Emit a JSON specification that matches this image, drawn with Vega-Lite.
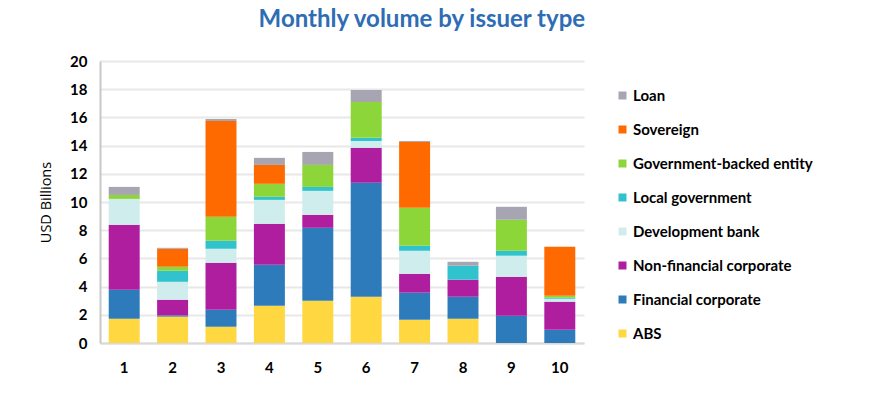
{
  "$schema": "https://vega.github.io/schema/vega-lite/v6.json",
  "autosize": {"type": "none"},
  "width": 484,
  "height": 282,
  "padding": {"left": 100, "top": 61, "right": 300, "bottom": 56},
  "background": "white",
  "title": {
    "text": "Monthly volume by issuer type",
    "anchor": "start",
    "dx": 220,
    "offset": 22,
    "font": "Lato",
    "fontSize": 24,
    "fontWeight": "bold",
    "color": "#2E6DB4"
  },
  "data": {
    "values": [
      {"month": 1, "type": "ABS", "ord": 1, "value": 1.72},
      {"month": 1, "type": "Financial corporate", "ord": 2, "value": 2.06},
      {"month": 1, "type": "Non-financial corporate", "ord": 3, "value": 4.6},
      {"month": 1, "type": "Development bank", "ord": 4, "value": 1.84},
      {"month": 1, "type": "Local government", "ord": 5, "value": 0},
      {"month": 1, "type": "Government-backed entity", "ord": 6, "value": 0.28},
      {"month": 1, "type": "Sovereign", "ord": 7, "value": 0},
      {"month": 1, "type": "Loan", "ord": 8, "value": 0.57},

      {"month": 2, "type": "ABS", "ord": 1, "value": 1.87},
      {"month": 2, "type": "Financial corporate", "ord": 2, "value": 0.09},
      {"month": 2, "type": "Non-financial corporate", "ord": 3, "value": 1.11},
      {"month": 2, "type": "Development bank", "ord": 4, "value": 1.27},
      {"month": 2, "type": "Local government", "ord": 5, "value": 0.78},
      {"month": 2, "type": "Government-backed entity", "ord": 6, "value": 0.29},
      {"month": 2, "type": "Sovereign", "ord": 7, "value": 1.27},
      {"month": 2, "type": "Loan", "ord": 8, "value": 0.07},

      {"month": 3, "type": "ABS", "ord": 1, "value": 1.16},
      {"month": 3, "type": "Financial corporate", "ord": 2, "value": 1.2},
      {"month": 3, "type": "Non-financial corporate", "ord": 3, "value": 3.33},
      {"month": 3, "type": "Development bank", "ord": 4, "value": 0.99},
      {"month": 3, "type": "Local government", "ord": 5, "value": 0.57},
      {"month": 3, "type": "Government-backed entity", "ord": 6, "value": 1.7},
      {"month": 3, "type": "Sovereign", "ord": 7, "value": 6.8},
      {"month": 3, "type": "Loan", "ord": 8, "value": 0.14},

      {"month": 4, "type": "ABS", "ord": 1, "value": 2.64},
      {"month": 4, "type": "Financial corporate", "ord": 2, "value": 2.91},
      {"month": 4, "type": "Non-financial corporate", "ord": 3, "value": 2.9},
      {"month": 4, "type": "Development bank", "ord": 4, "value": 1.7},
      {"month": 4, "type": "Local government", "ord": 5, "value": 0.22},
      {"month": 4, "type": "Government-backed entity", "ord": 6, "value": 0.92},
      {"month": 4, "type": "Sovereign", "ord": 7, "value": 1.34},
      {"month": 4, "type": "Loan", "ord": 8, "value": 0.5},

      {"month": 5, "type": "ABS", "ord": 1, "value": 3.0},
      {"month": 5, "type": "Financial corporate", "ord": 2, "value": 5.17},
      {"month": 5, "type": "Non-financial corporate", "ord": 3, "value": 0.92},
      {"month": 5, "type": "Development bank", "ord": 4, "value": 1.7},
      {"month": 5, "type": "Local government", "ord": 5, "value": 0.28},
      {"month": 5, "type": "Government-backed entity", "ord": 6, "value": 1.56},
      {"month": 5, "type": "Sovereign", "ord": 7, "value": 0},
      {"month": 5, "type": "Loan", "ord": 8, "value": 0.92},

      {"month": 6, "type": "ABS", "ord": 1, "value": 3.28},
      {"month": 6, "type": "Financial corporate", "ord": 2, "value": 8.08},
      {"month": 6, "type": "Non-financial corporate", "ord": 3, "value": 2.48},
      {"month": 6, "type": "Development bank", "ord": 4, "value": 0.49},
      {"month": 6, "type": "Local government", "ord": 5, "value": 0.22},
      {"month": 6, "type": "Government-backed entity", "ord": 6, "value": 2.55},
      {"month": 6, "type": "Sovereign", "ord": 7, "value": 0},
      {"month": 6, "type": "Loan", "ord": 8, "value": 0.85},

      {"month": 7, "type": "ABS", "ord": 1, "value": 1.65},
      {"month": 7, "type": "Financial corporate", "ord": 2, "value": 1.92},
      {"month": 7, "type": "Non-financial corporate", "ord": 3, "value": 1.34},
      {"month": 7, "type": "Development bank", "ord": 4, "value": 1.63},
      {"month": 7, "type": "Local government", "ord": 5, "value": 0.36},
      {"month": 7, "type": "Government-backed entity", "ord": 6, "value": 2.69},
      {"month": 7, "type": "Sovereign", "ord": 7, "value": 4.67},
      {"month": 7, "type": "Loan", "ord": 8, "value": 0.07},

      {"month": 8, "type": "ABS", "ord": 1, "value": 1.72},
      {"month": 8, "type": "Financial corporate", "ord": 2, "value": 1.56},
      {"month": 8, "type": "Non-financial corporate", "ord": 3, "value": 1.21},
      {"month": 8, "type": "Development bank", "ord": 4, "value": 0},
      {"month": 8, "type": "Local government", "ord": 5, "value": 0.99},
      {"month": 8, "type": "Government-backed entity", "ord": 6, "value": 0},
      {"month": 8, "type": "Sovereign", "ord": 7, "value": 0},
      {"month": 8, "type": "Loan", "ord": 8, "value": 0.28},

      {"month": 9, "type": "ABS", "ord": 1, "value": 0},
      {"month": 9, "type": "Financial corporate", "ord": 2, "value": 1.94},
      {"month": 9, "type": "Non-financial corporate", "ord": 3, "value": 2.76},
      {"month": 9, "type": "Development bank", "ord": 4, "value": 1.49},
      {"month": 9, "type": "Local government", "ord": 5, "value": 0.35},
      {"month": 9, "type": "Government-backed entity", "ord": 6, "value": 2.2},
      {"month": 9, "type": "Sovereign", "ord": 7, "value": 0},
      {"month": 9, "type": "Loan", "ord": 8, "value": 0.92},

      {"month": 10, "type": "ABS", "ord": 1, "value": 0},
      {"month": 10, "type": "Financial corporate", "ord": 2, "value": 0.94},
      {"month": 10, "type": "Non-financial corporate", "ord": 3, "value": 1.99},
      {"month": 10, "type": "Development bank", "ord": 4, "value": 0.21},
      {"month": 10, "type": "Local government", "ord": 5, "value": 0.07},
      {"month": 10, "type": "Government-backed entity", "ord": 6, "value": 0.14},
      {"month": 10, "type": "Sovereign", "ord": 7, "value": 3.47},
      {"month": 10, "type": "Loan", "ord": 8, "value": 0}
    ]
  },
  "mark": {"type": "bar"},
  "encoding": {
    "x": {
      "field": "month",
      "type": "ordinal",
      "scale": {"paddingInner": 0.36, "paddingOuter": 0.18},
      "axis": {
        "title": null,
        "labelAngle": 0,
        "labelFont": "Lato",
        "labelFontSize": 15,
        "labelFontWeight": "bold",
        "labelColor": "#000000",
        "labelPadding": 17,
        "ticks": false,
        "domainColor": "#D9D9D9",
        "domainWidth": 2
      }
    },
    "y": {
      "field": "value",
      "type": "quantitative",
      "aggregate": "sum",
      "stack": "zero",
      "scale": {"domain": [0, 20], "nice": false},
      "axis": {
        "title": "USD Billions",
        "titleFont": "Open Sans",
        "titleFontSize": 14.5,
        "titleFontWeight": "normal",
        "titleColor": "#000000",
        "titlePadding": 16,
        "values": [0, 2, 4, 6, 8, 10, 12, 14, 16, 18, 20],
        "labelFont": "Lato",
        "labelFontSize": 15,
        "labelFontWeight": "bold",
        "labelColor": "#000000",
        "labelPadding": 13,
        "ticks": false,
        "domainColor": "#C8C8C8",
        "domainWidth": 2,
        "gridColor": "#E8E8E8",
        "gridWidth": 2
      }
    },
    "color": {
      "field": "type",
      "type": "nominal",
      "scale": {
        "domain": ["Loan", "Sovereign", "Government-backed entity", "Local government", "Development bank", "Non-financial corporate", "Financial corporate", "ABS"],
        "range": ["#A6A5B1", "#FF6A00", "#8DD63A", "#30C3CE", "#CFEDEC", "#B01EA0", "#2E7BBB", "#FFD740"]
      },
      "legend": {
        "title": null,
        "orient": "none",
        "legendX": 515,
        "legendY": 27,
        "symbolType": "square",
        "symbolSize": 64,
        "symbolStrokeWidth": 0,
        "labelFont": "Lato",
        "labelFontSize": 15,
        "labelFontWeight": "bold",
        "labelColor": "#000000",
        "labelOffset": 3,
        "rowPadding": 18,
        "labelLimit": 300
      }
    },
    "order": {"field": "ord", "type": "quantitative", "aggregate": "min", "sort": "ascending"}
  },
  "config": {"view": {"stroke": null}}
}
